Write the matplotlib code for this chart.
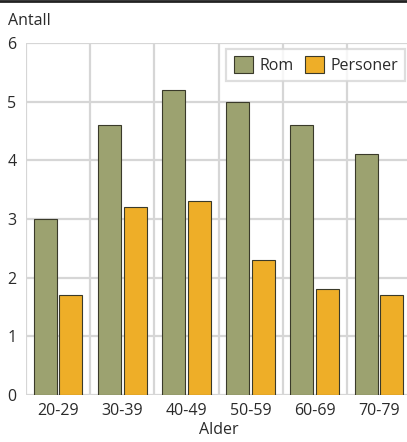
import matplotlib
matplotlib.use("Agg")
import matplotlib.pyplot as plt
from matplotlib.lines import Line2D
import numpy as np

categories = ["20-29", "30-39", "40-49", "50-59", "60-69", "70-79"]
rom = [3.0, 4.6, 5.2, 5.0, 4.6, 4.1]
personer = [1.7, 3.2, 3.3, 2.3, 1.8, 1.7]
series_labels = ["Rom", "Personer"]

plt.rcParams["font.family"] = ["Open Sans", "DejaVu Sans"]
plt.rcParams["font.size"] = 11.5
plt.rcParams["text.color"] = "#2a2a2a"
plt.rcParams["xtick.color"] = "#2a2a2a"
plt.rcParams["ytick.color"] = "#2a2a2a"
plt.rcParams["axes.labelcolor"] = "#2a2a2a"

W, H = 407, 442
fig = plt.figure(figsize=(W / 100, H / 100), dpi=100)
ax = fig.add_axes([26 / W, 47 / H, (411 - 26) / W, 352 / H])

x = np.arange(len(categories))
width = 0.36
ax.bar(x - 0.2, rom, width, color="#9ca270", edgecolor="#3a3a2a", linewidth=0.8,
       label=series_labels[0], zorder=3)
ax.bar(x + 0.2, personer, width, color="#eeae28", edgecolor="#3a3a2a", linewidth=0.8,
       label=series_labels[1], zorder=3)

ax.set_xlim(-0.5, len(categories) - 0.5)
ax.set_ylim(0, 6)
ax.set_yticks(range(0, 7))
ax.set_xticks(x)
ax.set_xticklabels(categories)
ax.set_xticks(np.arange(-0.5, len(categories) + 0.5, 1), minor=True)
ax.tick_params(which="both", length=0)
ax.tick_params(axis="y", pad=7)
ax.tick_params(axis="x", pad=6)
ax.grid(axis="y", which="major", color="#d6d6d6", linewidth=1.6, zorder=0)
ax.grid(axis="x", which="minor", color="#d6d6d6", linewidth=1.6, zorder=0)
ax.grid(axis="x", which="major", visible=False)
for s in ax.spines.values():
    s.set_visible(False)
ax.set_axisbelow(True)

ax.set_xlabel("Alder", labelpad=2)
fig.text(8 / W, 1 - 21 / H, "Antall", ha="left", va="center")

leg = ax.legend(loc="upper right", bbox_to_anchor=(405 / W, 1 - 49 / H),
                bbox_transform=fig.transFigure, ncol=2, frameon=True, fancybox=False,
                handlelength=1.2, handleheight=1.2, handletextpad=0.4, columnspacing=0.7,
                borderpad=0.45, borderaxespad=0)
leg.get_frame().set_edgecolor("#d6d6d6")
leg.get_frame().set_linewidth(1.6)

fig.add_artist(Line2D([0, 1], [1 - 1 / H, 1 - 1 / H], transform=fig.transFigure,
                      color="#222222", linewidth=2))

fig.savefig("out.png", dpi=100)
